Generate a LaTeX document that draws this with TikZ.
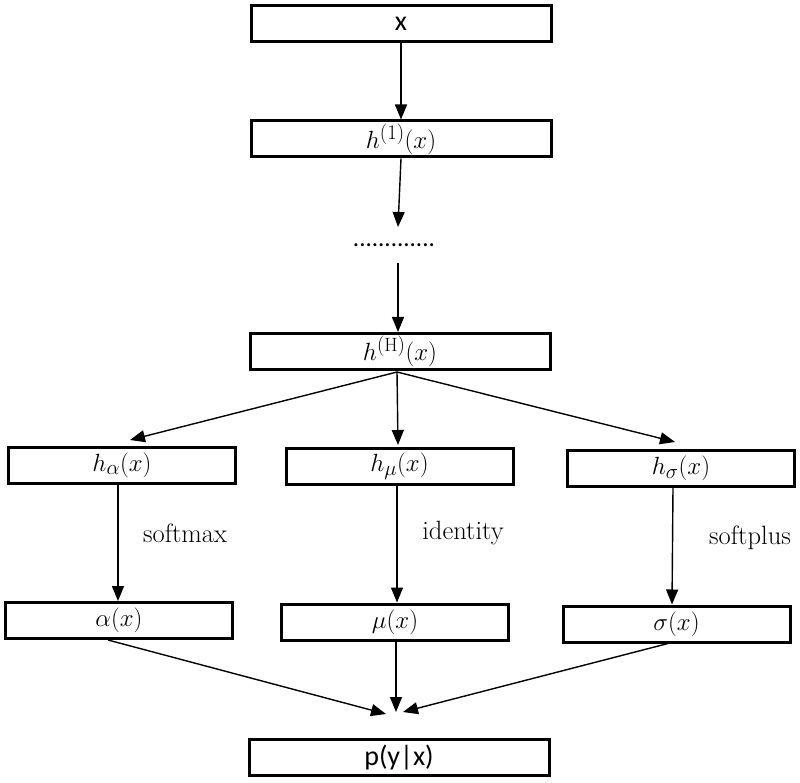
\documentclass[tikz,border=0pt]{standalone}
\usepackage{fontspec}
\newfontfamily\carl{Carlito}
\usetikzlibrary{arrows.meta}
\tikzset{
  box/.style={draw, line width=3pt, rectangle, inner sep=0pt, minimum height=36pt, font=\fontsize{27.5}{30}\selectfont},
  wide/.style={box, minimum width=300pt},
  narrow/.style={box, minimum width=227pt},
  arr/.style={line width=1.4pt, -{Triangle[length=15pt,width=12pt]}},
  lab/.style={font=\fontsize{26.5}{30}\selectfont, inner sep=0pt}
}
\begin{document}
\begin{tikzpicture}[x=1pt,y=-1pt]
\useasboundingbox (0,0) rectangle (800,783);
\node[wide] (x) at (401,23.5) {\fontsize{28}{30}\selectfont\carl x};
\node[wide] (h1) at (401,139) {$h^{(1)}(x)$};
\node[inner sep=0pt, font=\fontsize{25}{28}\selectfont\carl] (dots) at (394,245) {.............};
\node[wide] (hH) at (400,351.5) {$h^{(\mathrm{H})}(x)$};
\node[narrow] (ha) at (122,465) {$h_\alpha(x)$};
\node[narrow] (hm) at (399.5,466) {$h_\mu(x)$};
\node[narrow] (hs) at (681,468.5) {$h_\sigma(x)$};
\node[narrow] (a) at (119,620.5) {$\alpha(x)$};
\node[narrow] (m) at (395,622) {$\mu(x)$};
\node[narrow] (s) at (676.5,624) {$\sigma(x)$};
\node[wide] (p) at (399,757.5) {\fontsize{28}{30}\selectfont\carl p(y|x)};
\node[lab] (lsm) at (185,533) {softmax};
\node[lab] (lid) at (463,533) {identity};
\node[lab] (lsp) at (750,538) {softplus};
% coordinates
\coordinate (hHo) at (397,372);
\coordinate (ta) at (130,440);
\coordinate (tm) at (398,445);
\coordinate (ts) at (675,442);
\coordinate (d1) at (398,227);
\coordinate (d2) at (398,263);
\coordinate (ca) at (386,714);
\coordinate (cm) at (396,712);
\coordinate (cs) at (403,712);
% arrows
\draw[arr] (x.south) -- (x.south |- h1.north);
\draw[arr] (h1.south) -- (d1);
\draw[arr] (d2) -- (hH.north -| d2);
\draw[arr] (hHo) -- (ta);
\draw[arr] (hHo) -- (tm);
\draw[arr] (hHo) -- (ts);
\draw[arr] (ha.south -| 118,0) -- (a.north -| 118,0);
\draw[arr] (hm.south -| 397,0) -- (m.north -| 397,0);
\draw[arr] (hs.south -| 673,0) -- (s.north -| 672,0);
\draw[arr] (a.south -| 108,0) -- (ca);
\draw[arr] (m.south -| 396,0) -- (cm);
\draw[arr] (s.south -| 668,0) -- (cs);
\end{tikzpicture}
\end{document}
